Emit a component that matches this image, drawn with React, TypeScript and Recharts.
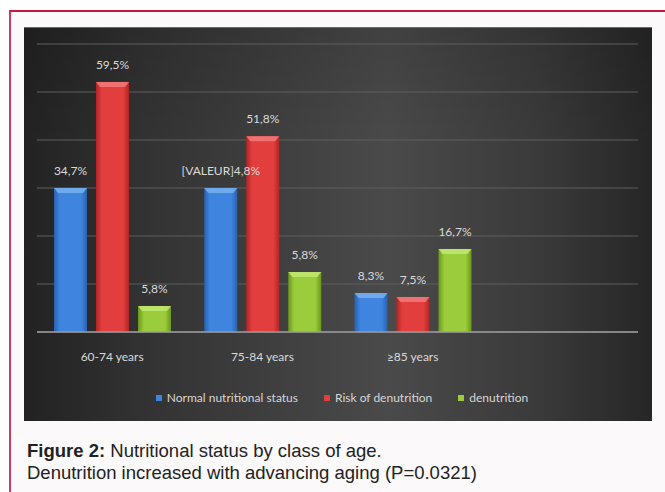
import { BarChart, Bar, XAxis, YAxis, CartesianGrid, Legend, LabelList } from 'recharts';

// values; printed labels kept as they appear
const categories = ['60-74 years', '75-84 years', '≥85 years', ''];
const normalValues = [30.0, 30.0, 8.1, null];
const riskValues = [52.1, 40.8, 7.3, null];
const denutritionValues = [5.4, 12.5, 17.3, null];
const normalLabels = ['34,7%', '[VALEUR]4,8%', '8,3%', ''];
const riskLabels = ['59,5%', '51,8%', '7,5%', ''];
const denutritionLabels = ['5,8%', '5,8%', '16,7%', ''];
const yTicks = [0, 10, 20, 30, 40, 50, 60];

const series = [
  { key: 'normal', name: 'Normal nutritional status', edge: '#2862b3', mid: '#3f85df', top: '#78b0f0' },
  { key: 'risk', name: 'Risk of denutrition', edge: '#b32424', mid: '#e23e3e', top: '#f27a7a' },
  { key: 'denut', name: 'denutrition', edge: '#6a971c', mid: '#9bcc3b', top: '#c2e872' },
];

const data = categories.map((category, i) => ({
  category,
  normal: normalValues[i],
  risk: riskValues[i],
  denut: denutritionValues[i],
  normalLabel: normalLabels[i],
  riskLabel: riskLabels[i],
  denutLabel: denutritionLabels[i],
}));

const FONT = 'Lato, "Open Sans", sans-serif';

function BevelBar(props: any) {
  const { x, y, width, height, gradId, topColor } = props;
  if (!height || height <= 0) return null;
  const b = Math.min(5, height / 2);
  return (
    <g>
      <rect x={x} y={y} width={width} height={height} fill={`url(#${gradId})`} />
      <polygon
        points={`${x},${y} ${x + width},${y} ${x + width - 4},${y + b} ${x + 4},${y + b}`}
        fill={topColor}
        opacity={0.85}
      />
    </g>
  );
}

function LegendBox() {
  return (
    <div
      style={{
        height: 39,
        display: 'flex',
        justifyContent: 'center',
        alignItems: 'flex-start',
        paddingTop: 8,
        paddingLeft: 9,
        boxSizing: 'border-box',
        fontFamily: FONT,
        fontSize: 12,
        color: '#d6d6d6',
      }}
    >
      {series.map((s, i) => (
        <div
          key={s.key}
          style={{ display: 'flex', alignItems: 'center', marginRight: i < series.length - 1 ? 26 : 0 }}
        >
          <span style={{ width: 6, height: 6, background: s.mid, marginRight: 5, display: 'inline-block' }} />
          <span>{s.name}</span>
        </div>
      ))}
    </div>
  );
}

export default function App() {
  return (
    <div style={{ position: 'absolute', left: 0, top: 0, width: 665, height: 492, background: '#fff', overflow: 'hidden' }}>
      <div
        style={{
          position: 'absolute',
          left: 9,
          top: 10,
          width: 700,
          height: 520,
          borderTop: '2px solid #c4163f',
          borderLeft: '2px solid #c83a62',
          background: '#fbf9fa',
        }}
      />
      <div
        style={{
          position: 'absolute',
          left: 24,
          top: 27,
          width: 628,
          height: 394,
          background:
            'linear-gradient(180deg, rgba(0,0,0,0.12) 0%, rgba(0,0,0,0) 30%, rgba(0,0,0,0) 100%), linear-gradient(90deg, #222 0%, #333 20%, #4a4a4a 58%, #3a3a3a 82%, #262626 100%)',
          borderTop: '1px solid #6a6a6a',
          boxSizing: 'border-box',
        }}
      >
        <BarChart
          width={628}
          height={393}
          data={data}
          margin={{ top: 16, right: 14, left: 13, bottom: 0 }}
          barSize={33}
          barGap={9}
          style={{ fontFamily: FONT }}
        >
          <defs>
            {series.map((s) => (
              <linearGradient key={s.key} id={`g-${s.key}`} x1="0" y1="0" x2="1" y2="0">
                <stop offset="0%" stopColor={s.edge} />
                <stop offset="18%" stopColor={s.mid} />
                <stop offset="82%" stopColor={s.mid} />
                <stop offset="100%" stopColor={s.edge} />
              </linearGradient>
            ))}
          </defs>
          <CartesianGrid vertical={false} stroke="#5e5e5e" strokeWidth={1.2} />
          <YAxis hide domain={[0, 60]} ticks={yTicks} />
          <XAxis
            dataKey="category"
            interval={0}
            height={50}
            tickLine={false}
            tickMargin={14}
            axisLine={{ stroke: '#9c9c9c', strokeWidth: 1.5 }}
            tick={{ fill: '#d9d9d9', fontSize: 12, fontFamily: FONT }}
          />
          <Legend verticalAlign="bottom" content={() => <LegendBox />} />
          {series.map((s) => (
            <Bar
              key={s.key}
              dataKey={s.key}
              name={s.name}
              fill={s.mid}
              isAnimationActive={false}
              shape={(p: any) => <BevelBar {...p} gradId={`g-${s.key}`} topColor={s.top} />}
            >
              <LabelList
                dataKey={`${s.key}Label`}
                position="top"
                offset={13}
                fill="#dadada"
                fontSize={12}
                fontFamily={FONT}
              />
            </Bar>
          ))}
        </BarChart>
      </div>
      <div
        style={{
          position: 'absolute',
          left: 27,
          top: 440,
          fontFamily: '"Liberation Sans", Arial, sans-serif',
          fontSize: 18.5,
          lineHeight: '22px',
          color: '#222',
          whiteSpace: 'nowrap',
        }}
      >
        <div>
          <b>Figure 2:</b> Nutritional status by class of age.
        </div>
        <div>Denutrition increased with advancing aging (P=0.0321)</div>
      </div>
    </div>
  );
}
